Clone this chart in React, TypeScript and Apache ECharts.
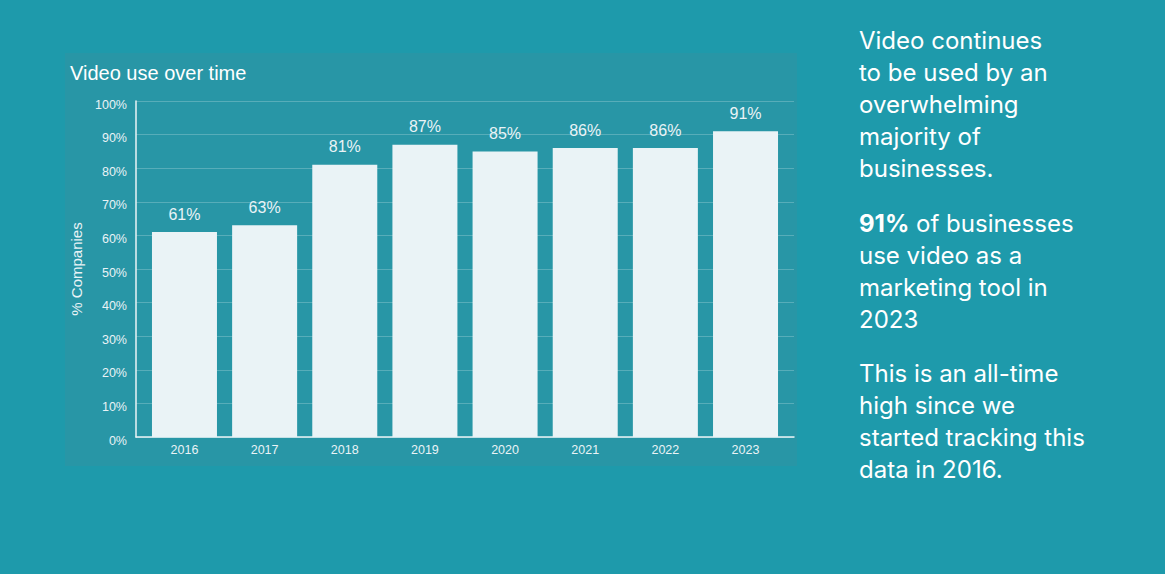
import React, { useEffect, useRef } from "react";
import * as echarts from "echarts";

const categories = ["2016", "2017", "2018", "2019", "2020", "2021", "2022", "2023"];
const values = [61, 63, 81, 87, 85, 86, 86, 91];
const yTicks = { min: 0, max: 100, interval: 10 };

const chartTitle = "Video use over time";
const yAxisName = "% Companies";
const para1 = ["Video continues", "to be used by an", "overwhelming", "majority of", "businesses."];
const para2Bold = "91%";
const para2 = [" of businesses", "use video as a", "marketing tool in", "2023"];
const para3 = ["This is an all-time", "high since we", "started tracking this", "data in 2016."];

export default function App() {
  const ref = useRef<HTMLDivElement>(null);
  useEffect(() => {
    document.body.style.margin = "0";
    const chart = echarts.init(ref.current!, undefined, { renderer: "svg" });
    const light = "#eaf3f6";
    const chartFont = "'Liberation Sans', Arial, sans-serif";
    const sideFont = "Inter, 'Noto Sans', sans-serif";
    chart.setOption({
      animation: false,
      backgroundColor: "#1e9aab",
      title: {
        text: chartTitle,
        left: 65,
        top: 58,
        textStyle: { color: "#ffffff", fontSize: 20, fontWeight: "normal", fontFamily: chartFont },
      },
      graphic: [
        {
          type: "rect",
          z: -10,
          silent: true,
          shape: { x: 65, y: 53, width: 732, height: 413 },
          style: { fill: "#2896a6" },
        },
        {
          type: "text",
          x: 859,
          y: 24,
          style: {
            text: para1.join("\n"),
            fill: "#ffffff",
            font: `24px ${sideFont}`,
            lineHeight: 32,
            verticalAlign: "top",
          },
        },
        {
          type: "text",
          x: 859,
          y: 207,
          style: {
            text: `{b|${para2Bold}}{n|${para2[0]}}\n{n|${para2.slice(1).join("}\n{n|")}}`,
            fill: "#ffffff",
            lineHeight: 32,
            verticalAlign: "top",
            rich: {
              b: { fontFamily: sideFont, fontSize: 24, fontWeight: "bold", fill: "#ffffff", lineHeight: 32 },
              n: { fontFamily: sideFont, fontSize: 24, fontWeight: "normal", fill: "#ffffff", lineHeight: 32 },
            },
          },
        },
        {
          type: "text",
          x: 859,
          y: 357,
          style: {
            text: para3.join("\n"),
            fill: "#ffffff",
            font: `24px ${sideFont}`,
            lineHeight: 32,
            verticalAlign: "top",
          },
        },
      ],
      grid: [
        { left: 136, right: 371, top: 101, bottom: 137 },
        { left: 144.4, width: 641.2, top: 101, bottom: 137 },
      ],
      xAxis: [
        {
          gridIndex: 0,
          type: "value",
          min: 0,
          max: 1,
          axisLine: { show: true, lineStyle: { color: light, width: 1.5 } },
          axisTick: { show: false },
          axisLabel: { show: false },
          splitLine: { show: false },
        },
        {
          gridIndex: 1,
          type: "category",
          data: categories,
          axisLine: { show: false },
          axisTick: { show: false },
          axisLabel: { color: light, fontSize: 12.5, fontFamily: chartFont, margin: 6 },
        },
      ],
      yAxis: [
        {
          gridIndex: 0,
          type: "value",
          min: yTicks.min,
          max: yTicks.max,
          interval: yTicks.interval,
          name: yAxisName,
          nameLocation: "middle",
          nameRotate: 90,
          nameGap: 49,
          nameTextStyle: { color: light, fontSize: 15, fontFamily: chartFont },
          axisLine: { show: true, lineStyle: { color: light, width: 1.5 } },
          axisTick: { show: false },
          axisLabel: {
            color: light,
            fontSize: 12.5,
            fontFamily: chartFont,
            formatter: "{value}%",
            margin: 9,
            verticalAlign: "top",
            lineHeight: 7,
          },
          splitLine: { show: true, lineStyle: { color: "rgba(255,255,255,0.22)", width: 1 } },
        },
        {
          gridIndex: 1,
          type: "value",
          min: yTicks.min,
          max: yTicks.max,
          show: false,
          splitLine: { show: false },
        },
      ],
      series: [
        {
          type: "bar",
          xAxisIndex: 1,
          yAxisIndex: 1,
          data: values,
          barWidth: 65,
          itemStyle: { color: light },
          label: {
            show: true,
            position: "top",
            distance: 10,
            formatter: "{c}%",
            color: light,
            fontSize: 16,
            fontFamily: chartFont,
          },
        },
      ],
    });
    return () => chart.dispose();
  }, []);
  return <div ref={ref} style={{ position: "absolute", left: 0, top: 0, width: 1165, height: 574 }} />;
}
